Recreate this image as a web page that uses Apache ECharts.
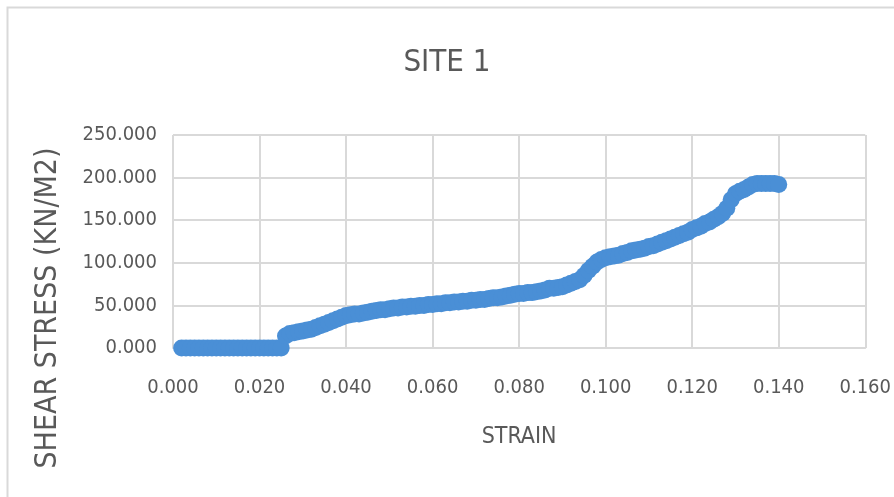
<!DOCTYPE html>
<html>
<head>
<meta charset="utf-8">
<script src="https://cdn.jsdelivr.net/npm/echarts@6/dist/echarts.min.js"></script>
<style>html,body{margin:0;padding:0;background:#fff}#c{width:894px;height:497px}</style>
</head>
<body>
<div id="c"></div>
<script>
var chartTitle = 'SITE 1';
var xAxisName = 'STRAIN';
var yAxisName = 'SHEAR STRESS (KN/M2)';
var strain = [0.002,0.003,0.004,0.005,0.006,0.007,0.008,0.009,0.010,0.011,0.012,0.013,0.014,0.015,0.016,0.017,0.018,0.019,0.020,0.021,0.022,0.023,0.024,0.025,
0.026,0.027,0.028,0.029,0.030,0.031,0.032,0.033,0.034,0.035,0.036,0.037,0.038,0.039,0.040,0.041,0.042,0.043,0.044,0.045,0.046,0.047,0.048,0.049,0.050,
0.051,0.052,0.053,0.054,0.055,0.056,0.057,0.058,0.059,0.060,0.061,0.062,0.063,0.064,0.065,0.066,0.067,0.068,0.069,0.070,0.071,0.072,0.073,0.074,0.075,
0.076,0.077,0.078,0.079,0.080,0.081,0.082,0.083,0.084,0.085,0.086,0.087,0.088,0.089,0.090,0.091,0.092,0.093,0.094,0.095,0.096,0.097,0.098,0.099,0.100,
0.101,0.102,0.103,0.104,0.105,0.106,0.107,0.108,0.109,0.110,0.111,0.112,0.113,0.114,0.115,0.116,0.117,0.118,0.119,0.120,0.121,0.122,0.123,0.124,0.125,
0.126,0.127,0.128,0.129,0.130,0.131,0.132,0.133,0.134,0.135,0.136,0.137,0.138,0.139,0.140];
var stress = [0,0,0,0,0,0,0,0,0,0,0,0,0,0,0,0,0,0,0,0,0,0,0,0,
14,17,18,19,20,21,22,24,26,28,30,32,34,36,38,39,40,40,41,42,43,44,45,45,46,
47,47,48,48,49,49,50,50,51,51,52,52,53,53,54,54,55,55,56,56,57,57,58,59,59,
60,61,62,63,64,64,65,65,66,67,68,70,70,71,72,74,76,78,80,85,91,96,101,104,106,
107,108,109,111,112,114,115,116,117,119,120,122,124,126,128,130,132,134,136,139,141,143,146,148,151,
154,158,164,174,181,184,186,189,192,193,193,193,193,193,192];
var xTicks = {min: 0, max: 0.16, interval: 0.02};
var yTicks = {min: 0, max: 250, interval: 50};

var font = "'DejaVu Sans Condensed', 'Open Sans', sans-serif";
var textColor = '#595959';
var gridColor = '#d9d9d9';
var points = strain.map(function (s, i) { return [s, stress[i]]; });

var chart = echarts.init(document.getElementById('c'), null, {renderer: 'canvas'});
chart.setOption({
  animation: false,
  backgroundColor: '#fff',
  title: {
    text: chartTitle, left: 'center', top: 42,
    textStyle: {fontFamily: font, fontSize: 31, fontWeight: 'normal', color: textColor}
  },
  grid: {left: 173, right: 27, top: 135, bottom: 149, containLabel: false},
  xAxis: {
    type: 'value', min: xTicks.min, max: xTicks.max, interval: xTicks.interval,
    name: xAxisName, nameLocation: 'middle', nameGap: 78,
    nameTextStyle: {fontFamily: font, fontSize: 23, color: textColor},
    axisLine: {show: true, lineStyle: {color: gridColor, width: 2}},
    axisTick: {show: false},
    splitLine: {show: true, lineStyle: {color: gridColor, width: 2}},
    axisLabel: {fontFamily: font, fontSize: 20, color: textColor, margin: 30,
      formatter: function (v) { return v.toFixed(3); }}
  },
  yAxis: {
    type: 'value', min: yTicks.min, max: yTicks.max, interval: yTicks.interval,
    axisLine: {show: false},
    axisTick: {show: false},
    splitLine: {show: true, lineStyle: {color: gridColor, width: 2}},
    axisLabel: {fontFamily: font, fontSize: 20, color: textColor, margin: 16,
      formatter: function (v) { return v.toFixed(3); }}
  },
  graphic: [
    {type: 'rect', left: 5, top: 5, shape: {width: 900, height: 520},
     style: {fill: 'none', stroke: gridColor, lineWidth: 2}, silent: true},
    {type: 'text', x: 48, y: 308, rotation: Math.PI / 2,
     style: {text: yAxisName, fontFamily: font, fontSize: 30, fill: textColor,
             textAlign: 'center', textVerticalAlign: 'middle'}}
  ],
  series: [{
    type: 'line', data: points,
    symbol: 'circle', symbolSize: 17,
    itemStyle: {color: '#4a8fd6'},
    lineStyle: {color: '#4a8fd6', width: 5},
    z: 3
  }]
});
</script>
</body>
</html>
